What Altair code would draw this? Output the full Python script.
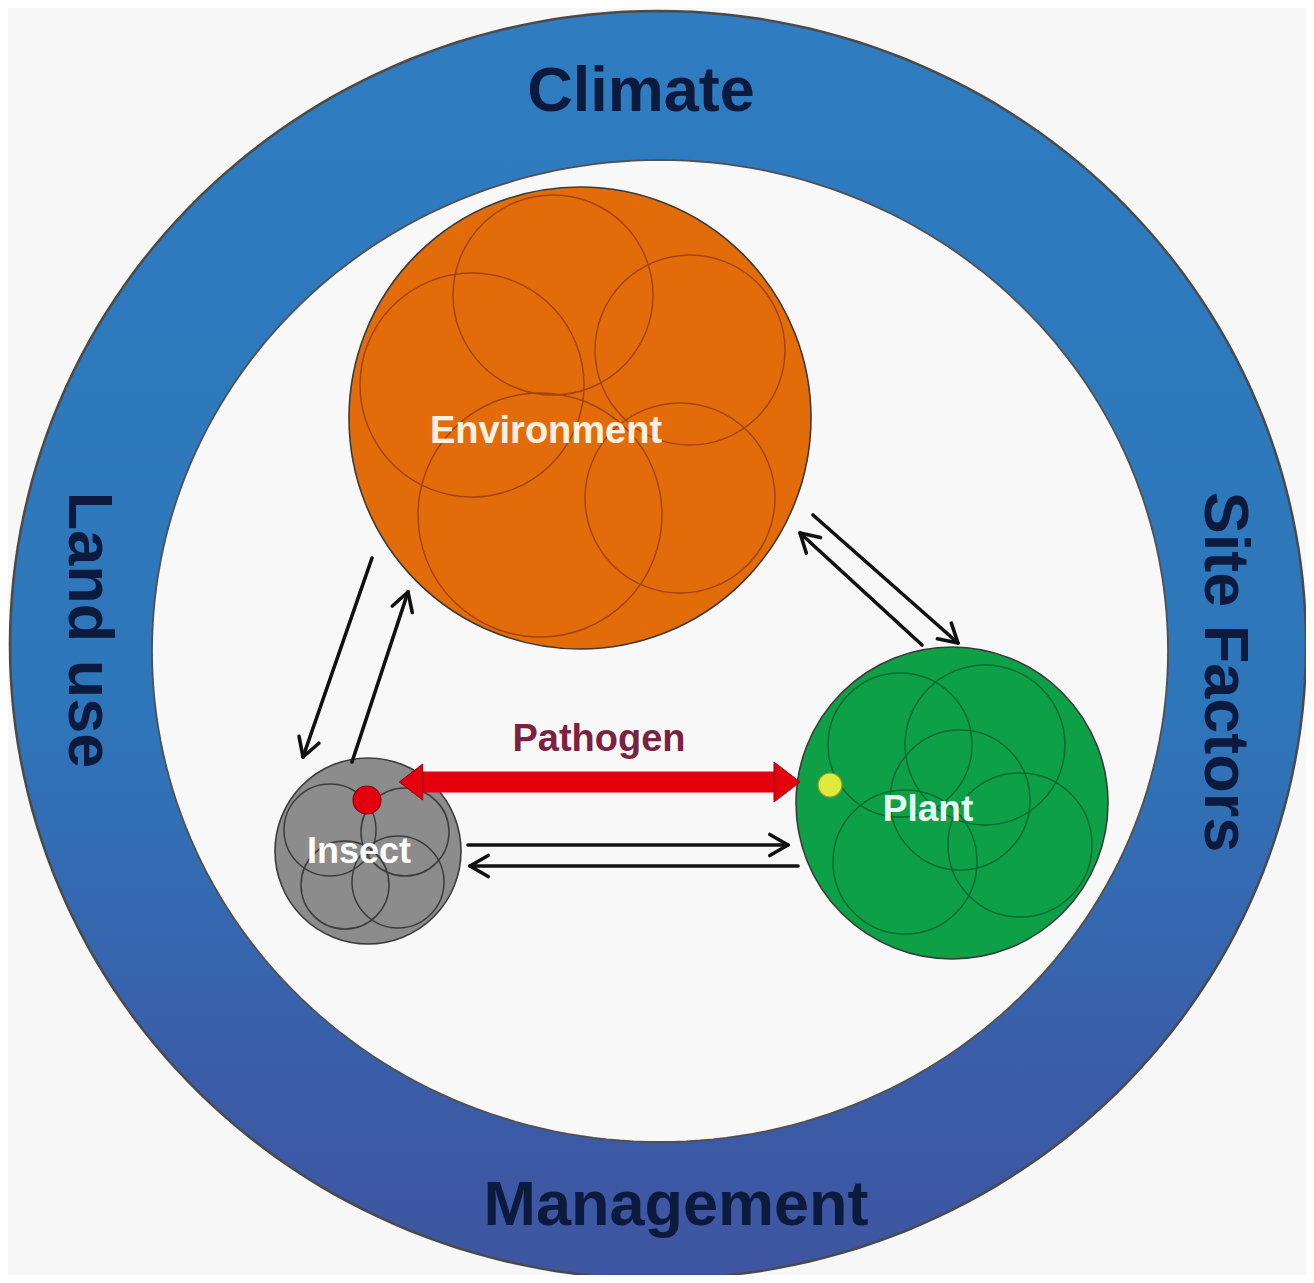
import altair as alt
import numpy as np
import pandas as pd

# ---------------- data (image pixel coordinates) ----------------
# outer ring and inner white disc (centre x, centre y, radius x, radius y)
ring_outer = [658, 645, 648, 634]
ring_inner = [660, 651, 508, 491]

ring_labels = ["Climate", "Management", "Land use", "Site Factors"]
ring_label_x = [641, 676, 88, 1224]
ring_label_y = [92, 1206, 630, 672]
ring_label_angle = [0, 0, 90, 90]

node_names = ["Environment", "Plant", "Insect"]
node_cx = [580, 952, 368]
node_cy = [418, 803, 851]
node_r = [231, 156, 93]
node_label_x = [546, 928, 359]
node_label_y = [432, 810, 852]

# decorative inner circles of each node
deco_group = (["Environment"] * 5) + (["Plant"] * 5) + (["Insect"] * 4)
deco_cx = [553, 690, 472, 540, 680, 900, 985, 1020, 905, 960, 330, 405, 345, 398]
deco_cy = [295, 350, 385, 515, 498, 745, 745, 845, 862, 800, 830, 832, 885, 882]
deco_r = [100, 95, 112, 122, 95, 72, 80, 72, 72, 70, 46, 44, 44, 46]

# small dots (pathogen in insect / in plant)
dot_names = ["insect_pathogen", "plant_pathogen"]
dot_cx = [367, 830]
dot_cy = [800, 785]
dot_r = [14, 12]

# black interaction arrows: tail -> head
arrow_x1 = [372, 352, 813, 922, 468, 798]
arrow_y1 = [558, 762, 515, 645, 845, 866]
arrow_x2 = [303, 408, 958, 800, 788, 470]
arrow_y2 = [757, 592, 643, 533, 845, 866]

# red pathogen arrow (double headed)
red_x1, red_x2, red_y = 398, 800, 782
pathogen_label = ["Pathogen"]
pathogen_label_x = [599]
pathogen_label_y = [740]

# ---------------- styles ----------------
W, H = 1298, 1267
FONT = "Liberation Sans"
node_fills = {"Environment": "#E36C0A", "Plant": "#0EA046", "Insect": "#8C8C8C"}
deco_strokes = {"Environment": "#A4420E", "Plant": "#0A6A30", "Insect": "#3C3C3C"}
node_text_colors = {"Environment": "#FBF1E2", "Plant": "#E4FFF4", "Insect": "#FFFFFF"}
node_font_sizes = {"Environment": 38, "Plant": 37, "Insect": 36}
dot_fills = {"insect_pathogen": "#E2000F", "plant_pathogen": "#DCEB3C"}
dot_strokes = {"insect_pathogen": "#8A0008", "plant_pathogen": "#8F9A22"}

xs = alt.Scale(domain=[8, 8 + W], nice=False, zero=False)
ys = alt.Scale(domain=[8, 8 + H], nice=False, zero=False, reverse=True)


def XY(xf="x", yf="y"):
    return dict(
        x=alt.X(f"{xf}:Q", scale=xs, axis=None),
        y=alt.Y(f"{yf}:Q", scale=ys, axis=None),
    )


def ellipse_path(ratio, n=240):
    t = np.linspace(0, 2 * np.pi, n, endpoint=False)
    pts = [f"{np.cos(a):.5f},{ratio * np.sin(a):.5f}" for a in t]
    return "M" + "L".join(pts) + "Z"


SIZE = alt.Size("size:Q", scale=None)

# ---------------- ring ----------------
gradient = alt.LinearGradient(
    gradient="linear",
    stops=[
        alt.GradientStop(color="#2F7CC0", offset=0),
        alt.GradientStop(color="#2E76BA", offset=0.55),
        alt.GradientStop(color="#3B5CA8", offset=0.85),
        alt.GradientStop(color="#3E55A0", offset=1),
    ],
    x1=0, x2=0, y1=0, y2=1,
)

df_outer = pd.DataFrame({"x": [ring_outer[0]], "y": [ring_outer[1]],
                         "size": [(2 * ring_outer[2]) ** 2]})
outer = alt.Chart(df_outer).mark_point(
    shape=ellipse_path(ring_outer[3] / ring_outer[2]), filled=True, fill=gradient,
    stroke="#4A4A4A", strokeWidth=2.5, opacity=1,
).encode(**XY(), size=SIZE)

df_inner = pd.DataFrame({"x": [ring_inner[0]], "y": [ring_inner[1]],
                         "size": [(2 * ring_inner[2]) ** 2]})
inner = alt.Chart(df_inner).mark_point(
    shape=ellipse_path(ring_inner[3] / ring_inner[2]), filled=True, fill="#F8F8F8",
    stroke="#505050", strokeWidth=1.8, opacity=1,
).encode(**XY(), size=SIZE)

df_ring_lab = pd.DataFrame({"label": ring_labels, "x": ring_label_x,
                            "y": ring_label_y, "angle": ring_label_angle})
ring_text = alt.Chart(df_ring_lab).mark_text(
    font=FONT, fontWeight="bold", fontSize=63, color="#0C1A3E",
    align="center", baseline="middle",
).encode(**XY(), text="label:N", angle=alt.Angle("angle:Q", scale=None))

# ---------------- nodes ----------------
df_nodes = pd.DataFrame({"name": node_names, "x": node_cx, "y": node_cy, "r": node_r})
df_nodes["fillc"] = df_nodes["name"].map(node_fills)
nodes = alt.Chart(df_nodes).transform_calculate(
    size="pow(2 * datum.r, 2)"
).mark_point(shape="circle", filled=True, opacity=1, stroke="#3A3A3A",
             strokeWidth=1.6).encode(
    **XY(), size=SIZE, fill=alt.Fill("fillc:N", scale=None),
)

df_deco = pd.DataFrame({"group": deco_group, "x": deco_cx, "y": deco_cy, "r": deco_r})
df_deco["strokec"] = df_deco["group"].map(deco_strokes)
deco = alt.Chart(df_deco).transform_calculate(
    size="pow(2 * datum.r, 2)"
).mark_point(shape="circle", filled=False, opacity=1, strokeWidth=1.5).encode(
    **XY(), size=SIZE, stroke=alt.Stroke("strokec:N", scale=None),
)

df_dots = pd.DataFrame({"name": dot_names, "x": dot_cx, "y": dot_cy, "r": dot_r})
df_dots["fillc"] = df_dots["name"].map(dot_fills)
df_dots["strokec"] = df_dots["name"].map(dot_strokes)
dots = alt.Chart(df_dots).transform_calculate(
    size="pow(2 * datum.r, 2)"
).mark_point(shape="circle", filled=True, opacity=1, strokeWidth=1.2).encode(
    **XY(), size=SIZE,
    fill=alt.Fill("fillc:N", scale=None),
    stroke=alt.Stroke("strokec:N", scale=None),
)

df_node_lab = pd.DataFrame({"label": node_names, "x": node_label_x, "y": node_label_y})
df_node_lab["textc"] = df_node_lab["label"].map(node_text_colors)
df_node_lab["fs"] = df_node_lab["label"].map(node_font_sizes)
node_text = alt.Chart(df_node_lab).mark_text(
    font=FONT, fontWeight="bold", align="center", baseline="middle",
).encode(
    **XY(), text="label:N", color=alt.Color("textc:N", scale=None),
    size=alt.Size("fs:Q", scale=None),
)

# ---------------- black arrows ----------------
df_arr = pd.DataFrame({"x": arrow_x1, "y": arrow_y1, "x2": arrow_x2, "y2": arrow_y2})
shafts = alt.Chart(df_arr).mark_rule(color="#111111", strokeWidth=3.6,
                                     strokeCap="round").encode(
    **XY(), x2="x2:Q", y2="y2:Q")

head_len, head_ang = 21, np.radians(30)
rows = []
for x1, y1, x2, y2 in zip(arrow_x1, arrow_y1, arrow_x2, arrow_y2):
    d = np.array([x2 - x1, y2 - y1], float)
    d /= np.linalg.norm(d)
    for s in (-1, 1):
        c, sn = np.cos(s * head_ang), np.sin(s * head_ang)
        rd = np.array([c * d[0] - sn * d[1], sn * d[0] + c * d[1]])
        rows.append({"x": x2, "y": y2, "x2": x2 - head_len * rd[0],
                     "y2": y2 - head_len * rd[1]})
df_heads = pd.DataFrame(rows)
heads = alt.Chart(df_heads).mark_rule(color="#111111", strokeWidth=3.6,
                                      strokeCap="round").encode(
    **XY(), x2="x2:Q", y2="y2:Q")

# ---------------- red arrow ----------------
hl = 13
df_red = pd.DataFrame({"x": [red_x1 + hl], "y": [red_y], "x2": [red_x2 - hl]})
red_shaft = alt.Chart(df_red).mark_rule(color="#E5000E", strokeWidth=21).encode(
    **XY(), x2="x2:Q")
df_red_heads = pd.DataFrame({"x": [red_x2 - hl, red_x1 + hl], "y": [red_y, red_y],
                             "angle": [0, 180], "size": [40 ** 2, 36 ** 2]})
red_heads = alt.Chart(df_red_heads).mark_point(
    shape="M-0.65,-1L0.65,0L-0.65,1Z", filled=True, fill="#E5000E",
    stroke="#9A0010", strokeWidth=1, opacity=1,
).encode(**XY(), size=SIZE, angle=alt.Angle("angle:Q", scale=None))

df_path_lab = pd.DataFrame({"label": pathogen_label, "x": pathogen_label_x,
                            "y": pathogen_label_y})
path_text = alt.Chart(df_path_lab).mark_text(
    font=FONT, fontWeight="bold", fontSize=38, color="#7B2242",
    align="center", baseline="middle",
).encode(**XY(), text="label:N")

chart = alt.layer(
    outer, inner, ring_text, nodes, deco, dots, shafts, heads,
    red_shaft, red_heads, node_text, path_text,
).properties(
    width=W, height=H, background="#F7F7F7", padding=0,
    autosize=alt.AutoSizeParams(type="none"),
).configure_view(stroke=None)

chart.save("out.html", embed_options={"renderer": "svg", "actions": False})
